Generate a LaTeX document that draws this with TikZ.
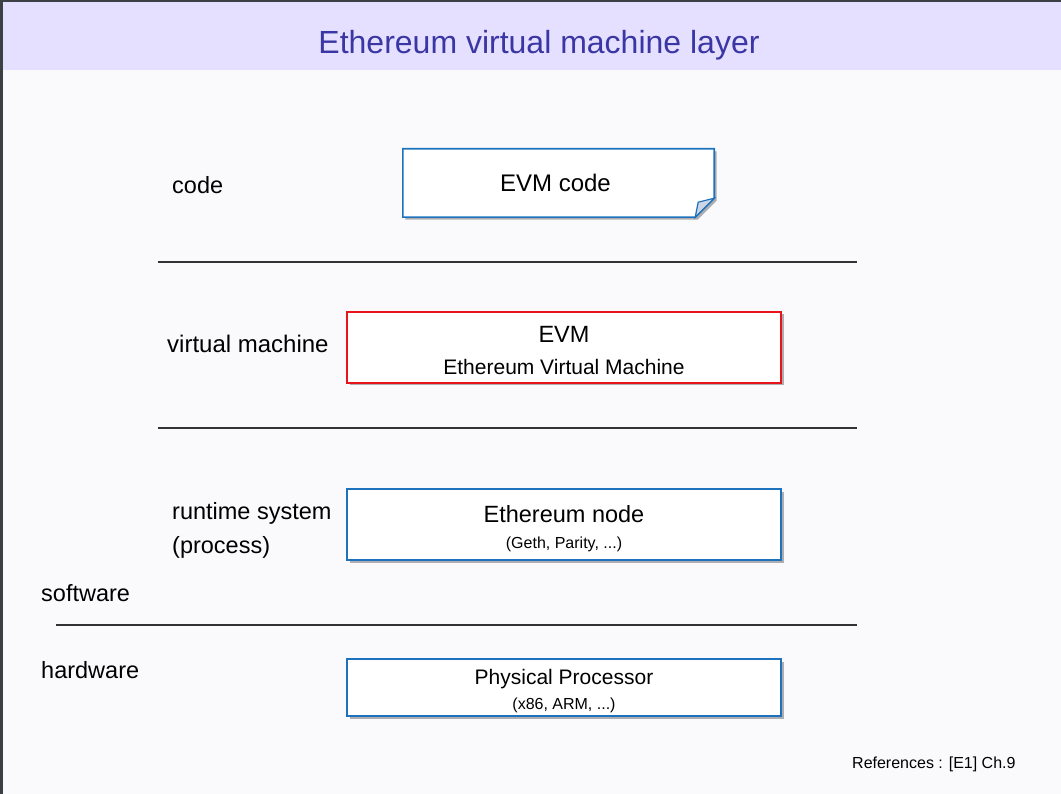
\documentclass[tikz,border=0pt]{standalone}
\usepackage{fontspec}
\setmainfont{Liberation Sans}
\usetikzlibrary{positioning, shadows, backgrounds}

\definecolor{headbg}{RGB}{229,224,255}
\definecolor{titleblue}{RGB}{58,54,163}
\definecolor{boxblue}{RGB}{28,114,189}
\definecolor{boxred}{RGB}{232,20,28}
\definecolor{pagebg}{RGB}{250,250,253}
\definecolor{frameedge}{RGB}{60,63,68}
\definecolor{foldfill}{RGB}{205,214,228}

\begin{document}
\begin{tikzpicture}[x=1pt, y=-1pt]
            \tikzstyle{layer} = [rectangle, draw=boxblue, line width=1.6pt, fill=white,
                inner sep=0pt, align=center, minimum width=434pt,
                drop shadow={shadow xshift=2.5pt, shadow yshift=-2.5pt, opacity=0.3, fill=black}]
            \tikzstyle{evm} = [layer, draw=boxred]
            \tikzstyle{label} = [anchor=base west, inner sep=0pt, font=\fontsize{23.5}{31}\selectfont]
            \tikzstyle{sepline} = [draw=black!80, line width=1.2pt]
            \tikzstyle{big} = [font=\fontsize{24}{28}\selectfont]

            % page and header band
            \begin{scope}[on background layer]
                \fill[pagebg] (0,0) rectangle (1061,794);
                \fill[frameedge] (0,0) rectangle (3,794);
                \fill[frameedge] (0,0) rectangle (1061,2);
                \fill[headbg] (3,2) rectangle (1061,70);
            \end{scope}
            \useasboundingbox (0,0) rectangle (1061,794);

            \node [text=titleblue, font=\fontsize{32}{36}\selectfont] (title) at (539,45) {Ethereum virtual machine layer};

            % layer boxes
            \node [big, inner sep=0pt, minimum width=311pt, minimum height=68pt] (code) at (558.5,183) {EVM code\kern6pt};
            \node [evm, minimum height=71pt, font=\fontsize{23.5}{31.5}\selectfont] (vm) at (564,347.5)
                {\rule{0pt}{22pt}EVM\\{\fontsize{21}{31.5}\selectfont Ethereum Virtual Machine}};
            \node [layer, minimum height=71pt, font=\fontsize{23.5}{26}\selectfont] (ethnode) at (564,524.5)
                {\rule{0pt}{25pt}Ethereum node\\{\fontsize{16}{26}\selectfont (Geth, Parity, ...)}};
            \node [layer, minimum height=57pt, font=\fontsize{21}{24.5}\selectfont] (cpu) at (564,687.5)
                {\rule{0pt}{22.5pt}Physical Processor\\{\fontsize{16}{24.5}\selectfont (x86, ARM, ...)}};

            % dog-eared note behind the code box
            \begin{scope}[on background layer]
                \draw [draw=boxblue, line width=1.6pt, fill=white,
                    drop shadow={shadow xshift=2.5pt, shadow yshift=-2.5pt, opacity=0.3, fill=black}]
                    (code.north west) -- (code.north east) -- ([yshift=19pt]code.south east)
                    -- ([xshift=-19pt]code.south east) -- (code.south west) -- cycle;
                \draw [draw=boxblue, line width=1.2pt, fill=foldfill]
                    ([yshift=19pt]code.south east) -- ([xshift=-16pt, yshift=15pt]code.south east)
                    -- ([xshift=-19pt]code.south east) -- cycle;
            \end{scope}

            % left labels
            \node [label] (lcode) at (172,194) {code};
            \node [label, font=\fontsize{24}{31}\selectfont] (lvm) at (167,353) {virtual machine};
            \node [label, align=left, font=\fontsize{23.5}{34}\selectfont] (lrun) at (172,553) {runtime system\\(process)};
            \node [label] (lsw) at (41,601) {software};
            \node [label] (lhw) at (41,678) {hardware};

            % separators
            \draw [sepline] (158,262) -- (857,262);
            \draw [sepline] (158,428) -- (857,428);
            \draw [sepline] (56,625) -- (857,625);

            \node [anchor=base west, inner sep=0pt, font=\fontsize{16}{20}\selectfont] (refs) at (852,768) {References : [E1] Ch.9};
\end{tikzpicture}
\end{document}
